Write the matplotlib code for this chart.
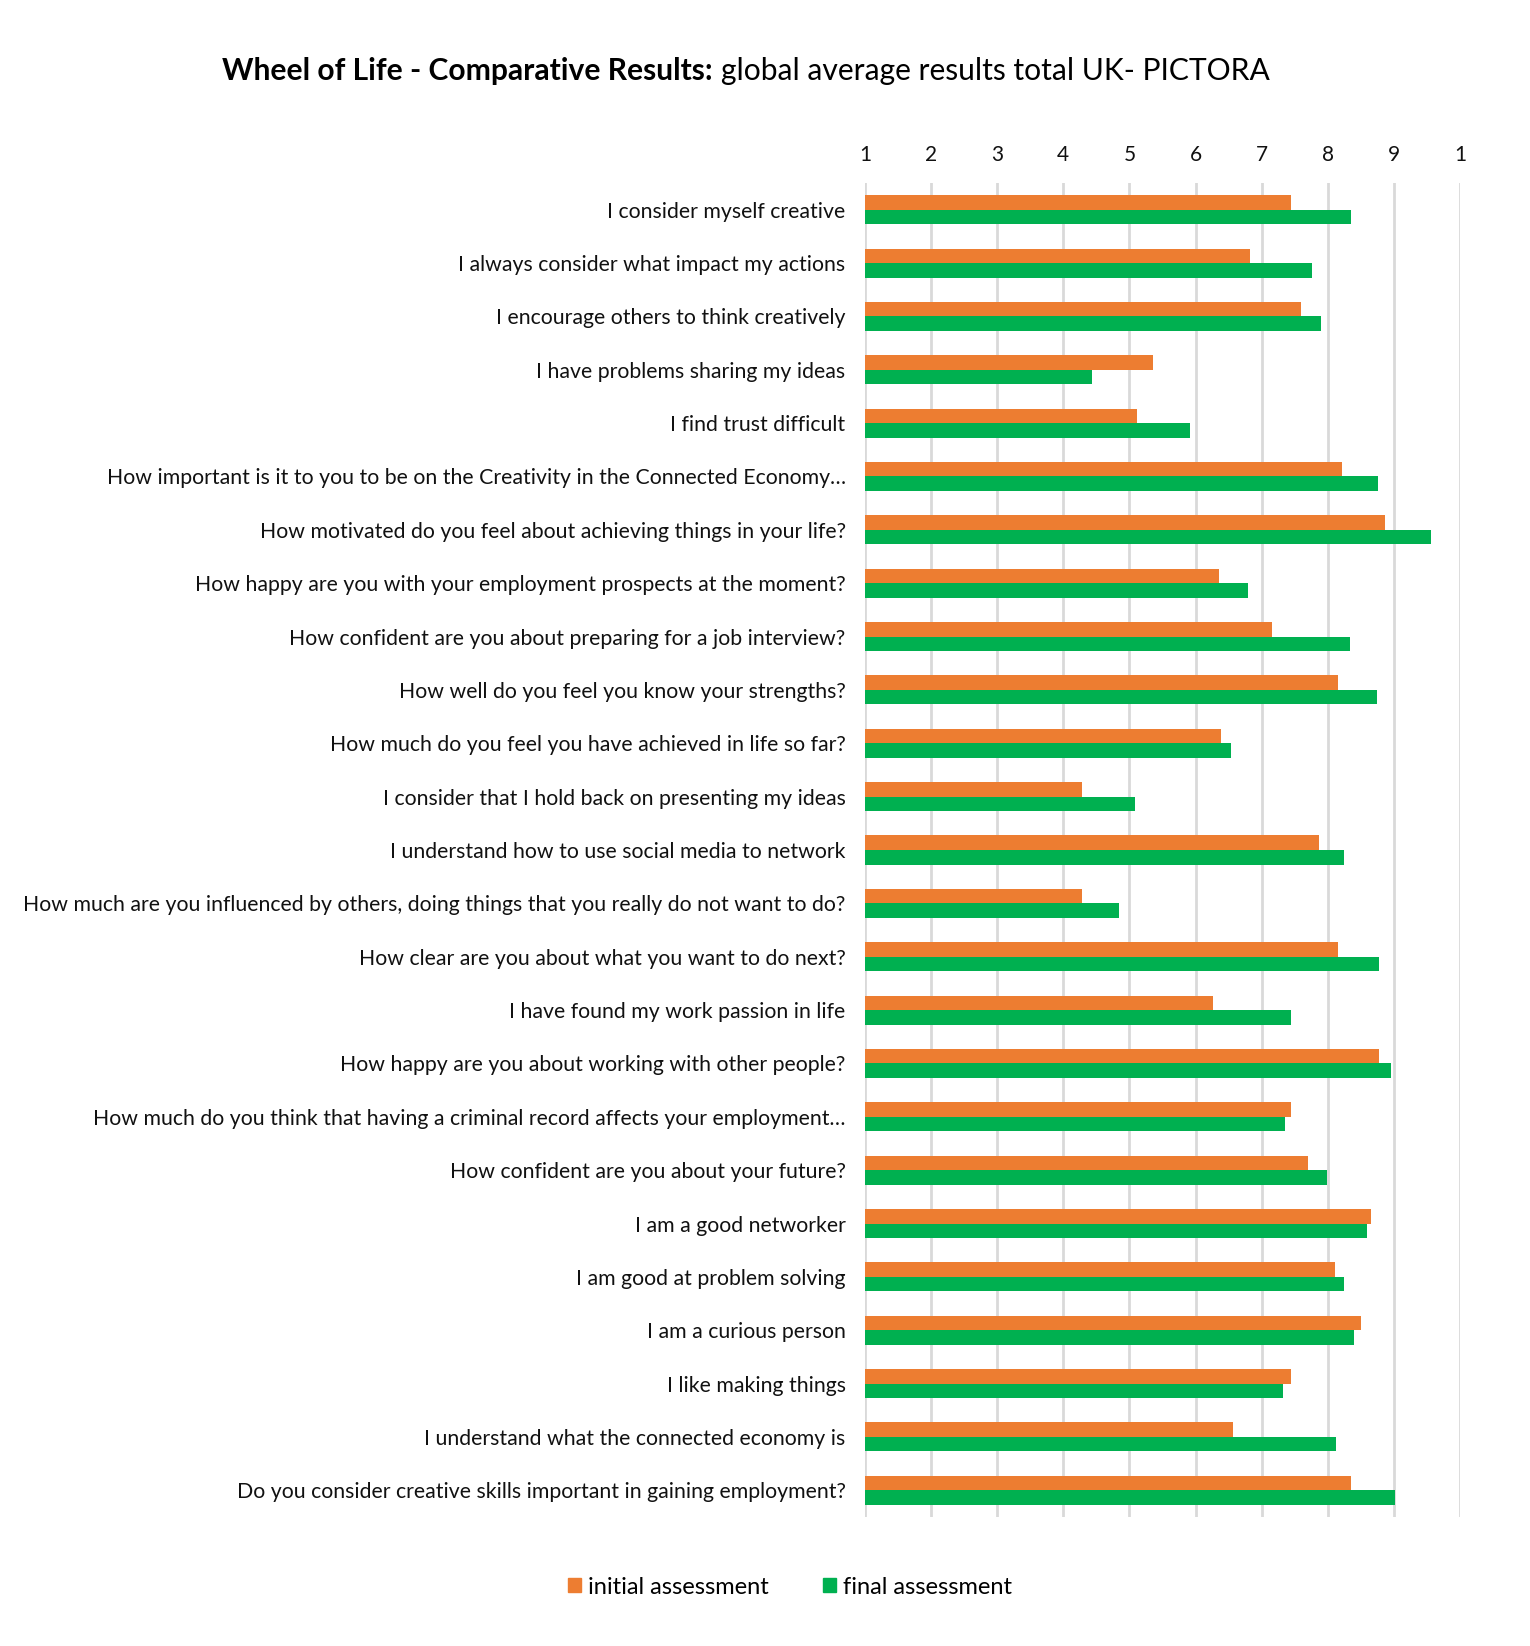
import numpy as np
import matplotlib.pyplot as plt
from matplotlib.patches import Patch

plt.rcParams['font.family'] = ['Lato', 'DejaVu Sans']

questions = [
    'I consider myself creative',
    'I always consider what impact my actions',
    'I encourage others to think creatively',
    'I have problems sharing my ideas',
    'I find trust difficult',
    'How important is it to you to be on the Creativity in the Connected Economy…',
    'How motivated do you feel about achieving things in your life?',
    'How happy are you with your employment prospects at the moment?',
    'How confident are you about preparing for a job interview?',
    'How well do you feel you know your strengths?',
    'How much do you feel you have achieved in life so far?',
    'I consider that I hold back on presenting my ideas',
    'I understand how to use social media to network',
    'How much are you influenced by others, doing things that you really do not want to do?',
    'How clear are you about what you want to do next?',
    'I have found my work passion in life',
    'How happy are you about working with other people?',
    'How much do you think that having a criminal record affects your employment…',
    'How confident are you about your future?',
    'I am a good networker',
    'I am good at problem solving',
    'I am a curious person',
    'I like making things',
    'I understand what the connected economy is',
    'Do you consider creative skills important in gaining employment?',
]
initial = [7.45, 6.82, 7.60, 5.35, 5.12, 8.21, 8.86, 6.35, 7.15, 8.15,
           6.39, 4.28, 7.86, 4.28, 8.15, 6.27, 8.78, 7.44, 7.70, 8.66,
           8.11, 8.50, 7.45, 6.56, 8.35]
final = [8.35, 7.76, 7.89, 4.44, 5.92, 8.76, 9.56, 6.79, 8.34, 8.75,
         6.53, 5.09, 8.24, 4.84, 8.78, 7.44, 8.96, 7.35, 7.99, 8.59,
         8.24, 8.40, 7.32, 8.12, 9.02]
ticks = [1, 2, 3, 4, 5, 6, 7, 8, 9, 10]
tick_labels = ['1', '2', '3', '4', '5', '6', '7', '8', '9', '1']

ORANGE = '#ED7D31'
GREEN = '#00B050'

W, H = 1530, 1646
fig = plt.figure(figsize=(W / 100, H / 100), dpi=100)
ax = fig.add_axes([865 / W, 1 - 1517 / H, (1460 - 865) / W, (1517 - 183) / H])

y = np.arange(len(questions))
bh = 0.272
ax.barh(y - bh / 2, np.array(initial) - 1, left=1, height=bh, color=ORANGE,
        label='initial assessment', zorder=3)
ax.barh(y + bh / 2, np.array(final) - 1, left=1, height=bh, color=GREEN,
        label='final assessment', zorder=3)

ax.set_xlim(1, 10)
ax.set_ylim(len(questions) - 0.5, -0.5)
ax.set_yticks(y)
ax.set_yticklabels(questions, fontsize=15.3, color='#111111')
ax.set_xticks(ticks)
ax.set_xticklabels(tick_labels, fontsize=15, color='#111111')
ax.xaxis.tick_top()
ax.tick_params(axis='y', length=0, pad=14)
ax.tick_params(axis='x', length=0, pad=13)
ax.grid(axis='x', color='#d9d9d9', linewidth=2, zorder=0)
for s in ax.spines.values():
    s.set_visible(False)

# two-part title
t1 = fig.text(222 / W, 1 - 71 / H, 'Wheel of Life - Comparative Results:',
              fontsize=21.6, fontweight='bold', va='center', ha='left')
fig.canvas.draw()
bb = t1.get_window_extent()
fig.text((bb.x1 + 8) / W, 1 - 71 / H, 'global average results total UK- PICTORA',
         fontsize=21.6, va='center', ha='left')

handles = [Patch(color=ORANGE), Patch(color=GREEN)]
fig.legend(handles, ['initial assessment', 'final assessment'], loc='center',
           bbox_to_anchor=(790 / W, 1 - 1587 / H), ncol=2, frameon=False,
           fontsize=17, handlelength=0.55, handleheight=0.55, handletextpad=0.3,
           columnspacing=2.3)

fig.savefig('out.png', dpi=100)
